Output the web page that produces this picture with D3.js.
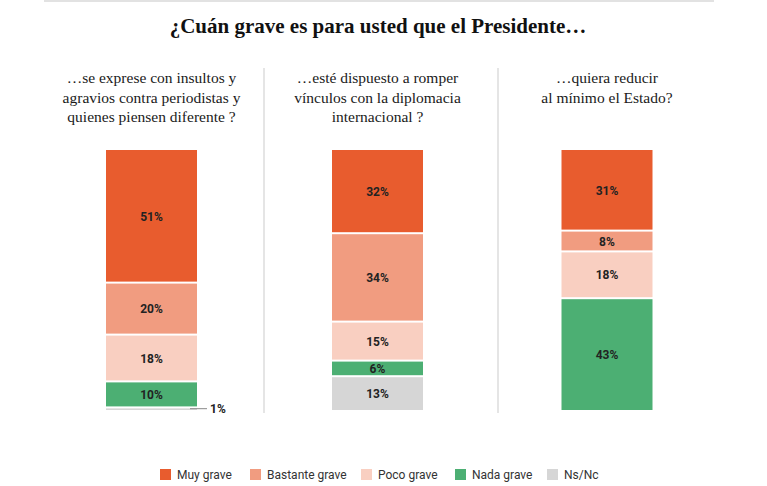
<!DOCTYPE html>
<html><head><meta charset="utf-8">
<script src="https://cdn.jsdelivr.net/npm/d3@7"></script>
<style>body{margin:0;background:#fff}svg{display:block}</style>
</head><body>
<div id="chart"></div>
<script>
const title = "¿Cuán grave es para usted que el Presidente…";
const questions = [
  ["…se exprese con insultos y", "agravios contra periodistas y", "quienes piensen diferente ?"],
  ["…esté dispuesto a romper", "vínculos con la diplomacia", "internacional ?"],
  ["…quiera reducir", "al mínimo el Estado?"]
];
const categories = ["Muy grave", "Bastante grave", "Poco grave", "Nada grave", "Ns/Nc"];
const colors = ["#e85c2e", "#f19c80", "#f9cfc1", "#4caf73", "#d6d6d6"];
const muyGrave      = [51, 32, 31];
const bastanteGrave = [20, 34, 8];
const pocoGrave     = [18, 15, 18];
const nadaGrave     = [10, 6, 43];
const nsNc          = [1, 13, 0];
const seriesValues = [muyGrave, bastanteGrave, pocoGrave, nadaGrave, nsNc];

const W = 767, H = 486;
const svg = d3.select("#chart").append("svg").attr("width", W).attr("height", H);

svg.append("line").attr("x1", 44).attr("x2", 714).attr("y1", 1).attr("y2", 1)
  .attr("stroke", "#e2e2e2").attr("stroke-width", 2);

svg.append("text").attr("x", 378).attr("y", 33).attr("text-anchor", "middle")
  .attr("font-family", "Liberation Serif, serif").attr("font-weight", "bold")
  .attr("font-size", 21).attr("fill", "#111").text(title);

const centers = [151.5, 377.5, 607];
const x = d3.scaleOrdinal().domain([0,1,2]).range(centers);
const barW = 91;
const y = d3.scaleLinear().domain([0, 100]).range([150, 410]);

// separators
[264, 498].forEach(sx => svg.append("line").attr("x1", sx).attr("x2", sx)
  .attr("y1", 68).attr("y2", 413).attr("stroke", "#dcdcdc").attr("stroke-width", 1.5));

// questions
questions.forEach((lines, i) => {
  const t = svg.append("text").attr("text-anchor", "middle")
    .attr("font-family", "Liberation Serif, serif").attr("font-size", 15.5).attr("fill", "#1a1a1a");
  lines.forEach((l, j) => t.append("tspan").attr("x", x(i)).attr("y", 83 + j * 19.5).text(l));
});

// stacked data
const stacked = [0,1,2].map(i => {
  let acc = 0;
  return seriesValues.map((s, k) => {
    const d = { q: i, k, v: s[i], y0: acc, y1: acc + s[i] };
    acc += s[i];
    return d;
  });
});

const g = svg.append("g");
stacked.forEach(col => {
  col.filter(d => d.v > 0).forEach(d => {
    const top = y(d.y0) + (d.k > 0 ? 1 : 0);
    const bot = y(d.y1) - (d.y1 < 100 ? 1 : 0);
    g.append("rect").attr("x", x(d.q) - barW / 2).attr("width", barW)
      .attr("y", top).attr("height", Math.max(1.5, bot - top)).attr("fill", colors[d.k]);
    if (d.v >= 5) {
      g.append("text").attr("x", x(d.q)).attr("y", (y(d.y0) + y(d.y1)) / 2 + 4.5)
        .attr("text-anchor", "middle").attr("font-family", "Roboto, sans-serif")
        .attr("font-weight", "bold").attr("font-size", 12).attr("fill", "#222")
        .text(d.v + "%");
    } else {
      const my = (y(d.y0) + y(d.y1)) / 2;
      g.append("line").attr("x1", x(d.q) + barW / 2 - 7).attr("x2", x(d.q) + barW / 2 + 10)
        .attr("y1", my).attr("y2", my).attr("stroke", "#888").attr("stroke-width", 1);
      g.append("text").attr("x", x(d.q) + barW / 2 + 13).attr("y", my + 4)
        .attr("font-family", "Roboto, sans-serif").attr("font-weight", "bold")
        .attr("font-size", 12).attr("fill", "#222").text(d.v + "%");
    }
  });
});

// legend
const legX = [160, 250, 361, 455, 547];
const leg = svg.append("g");
categories.forEach((c, k) => {
  leg.append("rect").attr("x", legX[k]).attr("y", 469).attr("width", 11).attr("height", 11).attr("fill", colors[k]);
  leg.append("text").attr("x", legX[k] + 17).attr("y", 479).attr("font-family", "Roboto, sans-serif")
    .attr("font-size", 12).attr("fill", "#333").text(c);
});
</script>
</body></html>
